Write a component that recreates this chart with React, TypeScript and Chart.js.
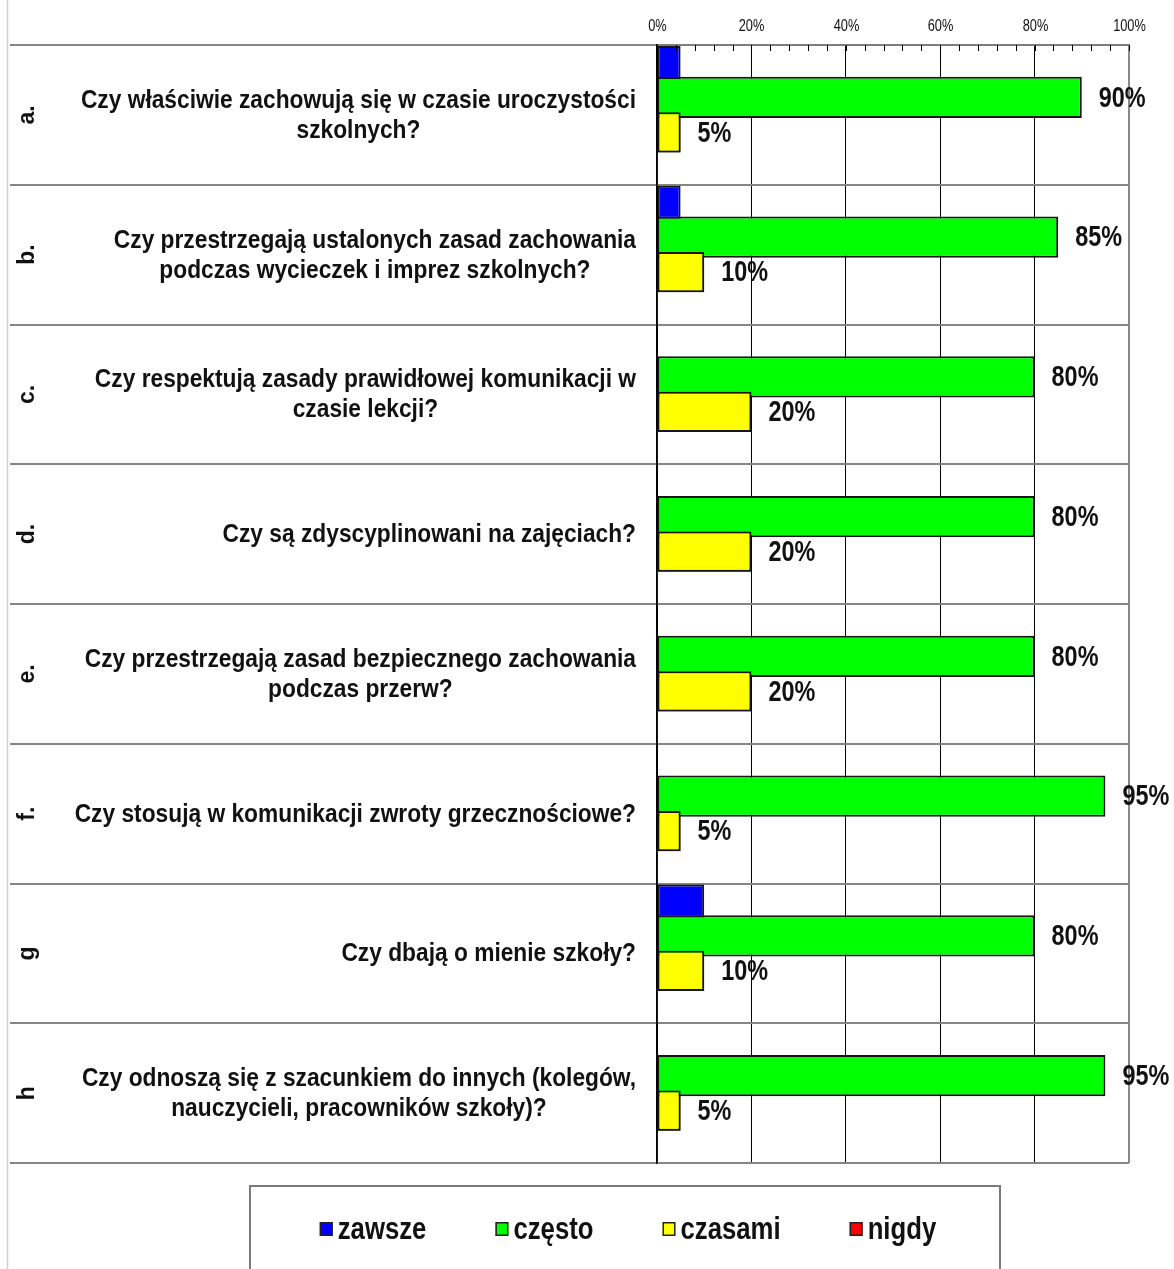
import React, { useEffect, useRef } from 'react';
import { Chart, registerables } from 'chart.js';

Chart.register(...registerables);

const letters = ['a.', 'b.', 'c.', 'd.', 'e.', 'f.', 'g', 'h'];
const questions: string[][] = [
  ['Czy właściwie zachowują się w czasie uroczystości', 'szkolnych?'],
  ['Czy przestrzegają ustalonych zasad zachowania', 'podczas wycieczek i imprez szkolnych?'],
  ['Czy respektują zasady prawidłowej komunikacji w', 'czasie lekcji?'],
  ['Czy są zdyscyplinowani na zajęciach?'],
  ['Czy przestrzegają zasad bezpiecznego zachowania', 'podczas przerw?'],
  ['Czy stosują w komunikacji zwroty grzecznościowe?'],
  ['Czy dbają o mienie szkoły?'],
  ['Czy odnoszą się z szacunkiem do innych (kolegów,', 'nauczycieli, pracowników szkoły)?'],
];
const seriesNames = ['zawsze', 'często', 'czasami', 'nigdy'];
const seriesColors = ['#0000FF', '#00FF00', '#FFFF00', '#FF0000'];
const zawsze = [5, 5, 0, 0, 0, 0, 10, 0];
const czesto = [90, 85, 80, 80, 80, 95, 80, 95];
const czasami = [5, 10, 20, 20, 20, 5, 10, 5];
const nigdy = [0, 0, 0, 0, 0, 0, 0, 0];
const axisMin = 0;
const axisMax = 100;
const minorStep = 4;
const majorStep = 20;
const labelledSeries = [1, 2];

const FONT = "'Liberation Sans', Arial, sans-serif";

function drawScaled(
  ctx: CanvasRenderingContext2D,
  text: string,
  x: number,
  y: number,
  sx: number,
  align: CanvasTextAlign
) {
  ctx.save();
  ctx.translate(x, y);
  ctx.scale(sx, 1);
  ctx.textAlign = align;
  ctx.fillText(text, 0, 0);
  ctx.restore();
}

const customPlugin = {
  id: 'customDecor',
  beforeDraw(chart: any) {
    const ctx: CanvasRenderingContext2D = chart.ctx;
    ctx.save();
    ctx.fillStyle = '#ffffff';
    ctx.fillRect(0, 0, chart.width, chart.height);
    ctx.strokeStyle = '#cfcfcf';
    ctx.lineWidth = 1.5;
    ctx.beginPath();
    ctx.moveTo(7.5, 0);
    ctx.lineTo(7.5, chart.height);
    ctx.stroke();
    ctx.restore();
  },
  afterDatasetsDraw(chart: any) {
    const ctx: CanvasRenderingContext2D = chart.ctx;
    // yellow bars sit over the green ones
    const yMeta = chart.getDatasetMeta(2);
    if (yMeta && yMeta.controller) yMeta.controller.draw();

    // value labels
    ctx.save();
    ctx.fillStyle = '#111';
    ctx.font = `bold 30px ${FONT}`;
    ctx.textBaseline = 'middle';
    labelledSeries.forEach((di) => {
      const meta = chart.getDatasetMeta(di);
      const data = chart.data.datasets[di].data as number[];
      meta.data.forEach((el: any, i: number) => {
        const v = data[i];
        if (!v) return;
        drawScaled(ctx, `${v}%`, el.x + 17, el.y + 1, 0.78, 'left');
      });
    });
    ctx.restore();

    // minor tick marks hanging under the top axis + narrow tick labels
    const xs = chart.scales.x;
    const top = chart.chartArea.top;
    ctx.save();
    ctx.strokeStyle = '#000';
    ctx.lineWidth = 1;
    ctx.fillStyle = '#111';
    ctx.font = `16px ${FONT}`;
    ctx.textBaseline = 'middle';
    xs.ticks.forEach((t: any) => {
      const px = Math.round(xs.getPixelForValue(t.value)) + 0.5;
      ctx.beginPath();
      ctx.moveTo(px, top);
      ctx.lineTo(px, top + 6);
      ctx.stroke();
      const lbl = t.label;
      if (lbl) drawScaled(ctx, String(lbl), px, 27, 0.8, 'center');
    });
    ctx.restore();
  },
  afterDraw(chart: any) {
    const ctx: CanvasRenderingContext2D = chart.ctx;
    const ys = chart.scales.y;
    const right = chart.chartArea.left - 21;
    const qsx = 0.91;
    ctx.save();
    ctx.fillStyle = '#111';
    ctx.textBaseline = 'middle';
    questions.forEach((lines, i) => {
      const cy = ys.getPixelForValue(i);
      ctx.font = `bold 25px ${FONT}`;
      const w = Math.max(...lines.map((l) => ctx.measureText(l).width)) * qsx;
      const cx = right - w / 2;
      const lh = 30;
      lines.forEach((l, j) => {
        const y = cy + (j - (lines.length - 1) / 2) * lh + 1;
        drawScaled(ctx, l, cx, y, qsx, 'center');
      });
      // rotated letter
      ctx.save();
      ctx.translate(28, cy);
      ctx.rotate(-Math.PI / 2);
      ctx.font = `bold 23px ${FONT}`;
      ctx.textAlign = 'center';
      ctx.fillText(letters[i], 0, 0);
      ctx.restore();
    });
    ctx.restore();

    // legend box
    ctx.save();
    ctx.strokeStyle = '#7a7a7a';
    ctx.lineWidth = 2;
    ctx.strokeRect(250, 1186, 750, 140);
    ctx.font = `bold 31px ${FONT}`;
    ctx.textBaseline = 'middle';
    const sx = 0.83;
    const sq = 13;
    const gapTxt = 5;
    const gapItem = 69;
    const widths = seriesNames.map((n) => ctx.measureText(n).width * sx);
    const total =
      widths.reduce((a, b) => a + b, 0) + seriesNames.length * (sq + gapTxt) + gapItem * (seriesNames.length - 1);
    let x = 628 - total / 2;
    const ly = 1229;
    seriesNames.forEach((n, i) => {
      ctx.fillStyle = seriesColors[i];
      ctx.fillRect(x, ly - 7, sq, 14);
      ctx.strokeStyle = '#222';
      ctx.lineWidth = 1.5;
      ctx.strokeRect(x + 0.75, ly - 6.25, sq - 1.5, 12.5);
      ctx.fillStyle = '#111';
      drawScaled(ctx, n, x + sq + gapTxt, ly + 1, sx, 'left');
      x += sq + gapTxt + widths[i] + gapItem;
    });
    ctx.restore();
  },
};

export default function App() {
  const ref = useRef<HTMLCanvasElement | null>(null);

  useEffect(() => {
    document.body.style.margin = '0';
    const canvas = ref.current;
    if (!canvas) return;
    const bw = (c: any) => (c.raw ? 2 : 0);
    const chart = new Chart(canvas, {
      type: 'bar',
      data: {
        labels: letters,
        datasets: [
          {
            label: seriesNames[0],
            data: zawsze,
            backgroundColor: seriesColors[0],
            borderColor: '#151515',
            borderWidth: bw,
            borderSkipped: false,
            categoryPercentage: 1,
            barPercentage: 0.94,
          },
          {
            label: seriesNames[1],
            data: czesto,
            backgroundColor: seriesColors[1],
            borderColor: '#151515',
            borderWidth: bw,
            borderSkipped: false,
            categoryPercentage: 1,
            barPercentage: 1.18,
          },
          {
            label: seriesNames[2],
            data: czasami,
            backgroundColor: seriesColors[2],
            borderColor: '#151515',
            borderWidth: bw,
            borderSkipped: false,
            categoryPercentage: 1,
            barPercentage: 1.15,
          },
          {
            label: seriesNames[3],
            data: nigdy,
            backgroundColor: seriesColors[3],
            borderColor: '#151515',
            borderWidth: bw,
            borderSkipped: false,
            categoryPercentage: 1,
            barPercentage: 1.0,
          },
        ],
      },
      options: {
        indexAxis: 'y',
        animation: false,
        responsive: false,
        devicePixelRatio: 1,
        layout: { padding: { top: 18, left: 10, right: 45, bottom: 106 } },
        plugins: {
          legend: { display: false },
          tooltip: { enabled: false },
          title: { display: false },
        },
        scales: {
          x: {
            position: 'top',
            min: axisMin,
            max: axisMax,
            ticks: {
              display: false,
              stepSize: minorStep,
              autoSkip: false,
              maxRotation: 0,
              minRotation: 0,
              callback: (v: any) => (Number(v) % majorStep === 0 ? `${v}%` : ''),
            },
            grid: {
              drawTicks: false,
              color: (c: any) => {
                const v = c.tick ? c.tick.value : -1;
                if (v === axisMax) return '#8a8a8a';
                return v % majorStep === 0 ? '#000' : 'rgba(0,0,0,0)';
              },
              lineWidth: (c: any) => (c.tick && c.tick.value === axisMax ? 2 : 1),
            },
            border: { display: true, color: '#7d7d7d', width: 2 },
            afterFit: (s: any) => {
              s.height = 27;
            },
          },
          y: {
            type: 'category',
            position: 'left',
            ticks: { display: false },
            grid: {
              offset: true,
              color: '#868686',
              lineWidth: 2,
              drawTicks: true,
              tickLength: 647,
            },
            border: { display: true, color: '#000', width: 1.5 },
            afterFit: (s: any) => {
              s.width = 647;
            },
          },
        },
      },
      plugins: [customPlugin],
    } as any);
    return () => chart.destroy();
  }, []);

  return (
    <div style={{ width: 1174, height: 1269, background: '#fff' }}>
      <canvas ref={ref} width={1174} height={1269} style={{ display: 'block' }} />
    </div>
  );
}
